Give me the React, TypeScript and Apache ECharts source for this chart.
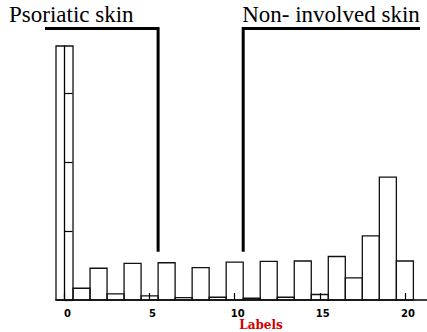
import React, { useEffect, useRef } from "react";
import * as echarts from "echarts";

const binCenters = [0, 1, 2, 3, 4, 5, 6, 7, 8, 9, 10, 11, 12, 13, 14, 15, 16, 17, 18, 19, 20];
const binValues = [36.8, 1.7, 4.6, 0.9, 5.3, 0.6, 5.4, 0.35, 4.7, 0.4, 5.5, 0.25, 5.6, 0.4, 5.65, 0.8, 6.3, 3.2, 9.3, 17.8, 5.65];
const xTicks = [0, 5, 10, 15, 20];
const yTicks = [0, 10, 20, 30];
const groupLabels = ["Psoriatic skin", "Non- involved skin"];
const groupSplits = [5.5, 10.5];
const bracketBottom = 7;
const xAxisName = "Labels";

export default function App() {
  const ref = useRef<HTMLDivElement>(null);
  useEffect(() => {
    if (!ref.current) return;
    const chart = echarts.init(ref.current, null, { renderer: "svg" });
    const option: any = {
      animation: false,
      backgroundColor: "#fff",
      grid: { left: 56, right: 0, top: 46, bottom: 32, containLabel: false, outerBoundsMode: "none" },
      xAxis: {
        type: "value",
        min: -0.5,
        max: 21.3,
        splitLine: { show: false },
        axisLine: { show: true, onZero: false, lineStyle: { color: "#000", width: 1.5 } },
        axisTick: { show: true, inside: true, length: 7, customValues: xTicks, lineStyle: { color: "#000", width: 1.2 } },
        axisLabel: {
          show: true,
          customValues: xTicks,
          margin: 8,
          padding: [0, 0, 0, 6],
          fontFamily: "DejaVu Sans",
          fontWeight: "bold",
          fontSize: 10,
          color: "#000",
        },
        name: xAxisName,
        nameLocation: "middle",
        nameGap: 19,
        nameMoveOverlap: false,
        nameTextStyle: {
          fontFamily: "DejaVu Serif",
          fontWeight: "bold",
          fontSize: 12,
          color: "#d00000",
          padding: [0, 0, 0, 39],
        },
      },
      yAxis: {
        type: "value",
        min: 0,
        max: 36.8,
        splitLine: { show: false },
        axisLine: { show: true, onZero: true, lineStyle: { color: "#000", width: 1.3 } },
        axisTick: { show: true, inside: true, length: 8, customValues: yTicks, lineStyle: { color: "#000", width: 1.2 } },
        axisLabel: { show: false },
      },
      series: [
        {
          type: "custom",
          data: binCenters.map((c, i) => [c, binValues[i]]),
          renderItem: (params: any, api: any) => {
            const k = api.value(0);
            const v = api.value(1);
            const p0 = api.coord([k - 0.5, v]);
            const p1 = api.coord([k + 0.5, 0]);
            return {
              type: "rect",
              shape: { x: p0[0], y: p0[1], width: p1[0] - p0[0], height: p1[1] - p0[1] },
              style: { fill: "none", stroke: "#111", lineWidth: 1.3 },
            };
          },
        },
      ],
    };
    chart.setOption(option);

    const px = (x: number, y: number) => chart.convertToPixel({ xAxisIndex: 0, yAxisIndex: 0 }, [x, y]) as number[];
    const a = px(groupSplits[0], bracketBottom);
    const b = px(groupSplits[1], bracketBottom);
    const topY = 28.5;
    chart.setOption({
      title: [
        {
          text: groupLabels[0],
          left: 9,
          top: 3,
          padding: 0,
          textStyle: { fontFamily: "Liberation Serif", fontSize: 23, fontWeight: "normal", color: "#000" },
        },
        {
          text: groupLabels[1],
          left: b[0] - 1,
          top: 3,
          padding: 0,
          textStyle: { fontFamily: "Liberation Serif", fontSize: 23, fontWeight: "normal", color: "#000" },
        },
      ],
      graphic: [
        {
          type: "polyline",
          shape: { points: [[45, topY], [a[0], topY], [a[0], a[1]]] },
          style: { stroke: "#000", lineWidth: 3, fill: "none" },
          z: 100,
        },
        {
          type: "polyline",
          shape: { points: [[420, topY], [b[0], topY], [b[0], b[1]]] },
          style: { stroke: "#000", lineWidth: 3, fill: "none" },
          z: 100,
        },
      ],
    });
    return () => chart.dispose();
  }, []);
  return <div ref={ref} style={{ position: "absolute", left: 0, top: 0, width: 427, height: 332 }} />;
}
